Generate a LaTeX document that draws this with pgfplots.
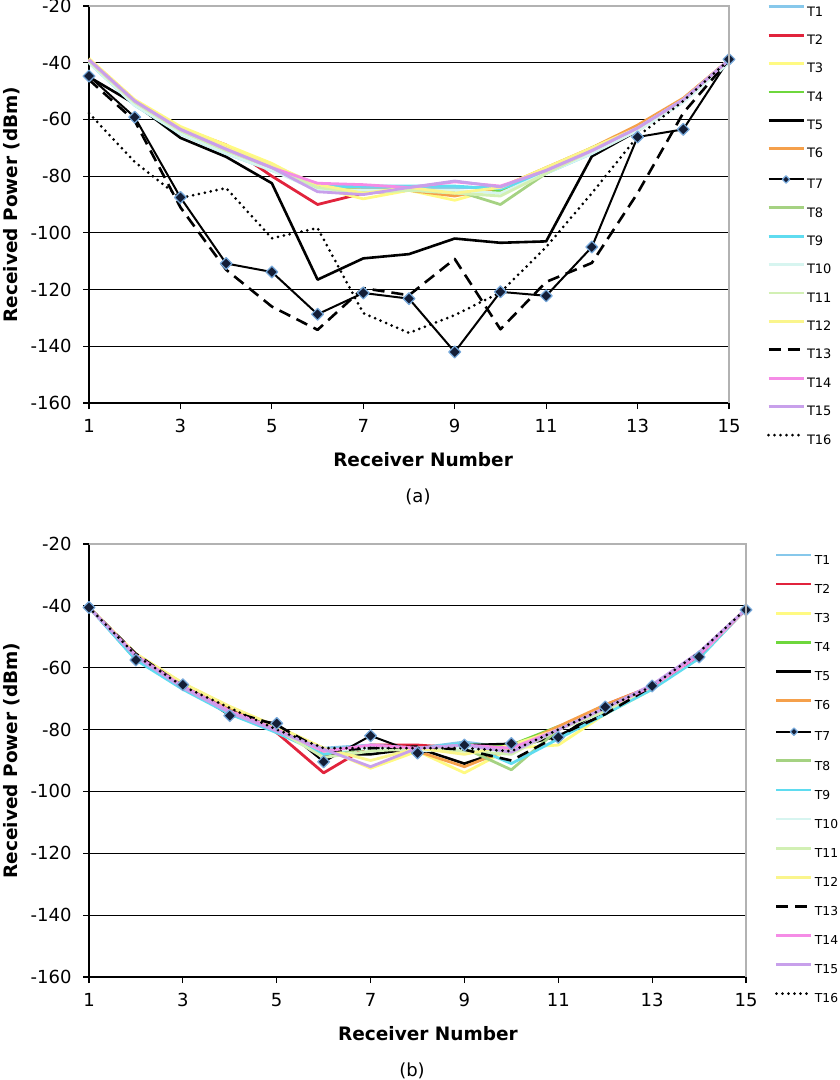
\documentclass[border=0pt]{standalone}
\usepackage{fontspec}
\setmainfont{DejaVu Sans}
\usepackage{pgfplots}
\usepackage{pgfplotstable}
\pgfplotsset{compat=1.18}
\definecolor{c1}{RGB}{135,200,235}
\definecolor{c2}{RGB}{225,35,60}
\definecolor{c3}{RGB}{255,250,130}
\definecolor{c4}{RGB}{110,215,60}
\definecolor{c6}{RGB}{245,160,75}
\definecolor{c8}{RGB}{165,210,130}
\definecolor{c9}{RGB}{95,220,240}
\definecolor{c10}{RGB}{215,245,240}
\definecolor{c11}{RGB}{210,240,180}
\definecolor{c12}{RGB}{250,245,140}
\definecolor{c14}{RGB}{245,140,230}
\definecolor{c15}{RGB}{200,160,235}
\definecolor{mkfill}{RGB}{20,30,55}
\definecolor{mkdraw}{RGB}{120,170,220}

\pgfplotstableread{
x T1 T2 T3 T4 T5 T6 T7 T8 T9 T10 T11 T12 T13 T14 T15 T16
1 -39.5 -39.5 -38.5 -39.5 -45 -39.5 -44.7 -39.5 -40 -40 -39.5 -39 -46 -39 -39 -57.8
2 -54 -53.5 -53 -54 -54.5 -54 -59.2 -54 -55 -55 -54 -53.5 -60.5 -53.5 -53.5 -75
3 -64 -63 -62.5 -64 -66.5 -64 -87.5 -64 -65 -65 -64 -63 -91 -63.5 -63.5 -87.7
4 -71 -69 -69 -71 -73.2 -71 -110.8 -71 -72 -72 -71 -70 -113 -70.5 -70.5 -84.2
5 -77 -80 -75.5 -77 -82.5 -77 -113.8 -77 -78 -78 -77 -76 -126 -77 -77 -101.9
6 -83 -90 -84 -84 -116.5 -84 -128.7 -84 -84 -85 -84 -83 -134.2 -82.5 -85.5 -98.3
7 -84 -86 -88 -85 -109 -85 -121.2 -85 -83.5 -85 -86 -86 -119.5 -83 -86.5 -128.3
8 -84 -85 -85 -85 -107.5 -85 -123.2 -85 -83.5 -85 -85 -84 -122 -84 -84 -135.3
9 -84 -86 -88.5 -86 -102 -87 -142 -85 -83.5 -85 -86 -86 -109.2 -82 -81.7 -129
10 -84 -85 -84 -85 -103.5 -84 -120.8 -90 -84.5 -86 -87 -84 -134 -83.5 -83.8 -121
11 -78 -78 -77 -78 -103 -77 -122.2 -79 -79 -79 -79 -77 -117.3 -78 -78 -105
12 -71 -71 -70 -70 -73 -70 -105 -71 -72 -72 -71 -70 -110.6 -71 -71 -86
13 -63 -63 -62.5 -63 -64 -62 -66.2 -63 -63.5 -64 -63 -63 -86 -63 -63 -66
14 -53 -53 -53 -53 -53 -52.5 -63.5 -53 -53.5 -54 -53 -53 -57.7 -53 -53 -53.5
15 -39 -39 -39 -39 -39 -39 -38.8 -39 -40 -40 -39 -39 -39 -39 -39 -39
}\dataA

\pgfplotstableread{
x T1 T2 T3 T4 T5 T6 T7 T8 T9 T10 T11 T12 T13 T14 T15 T16
1 -40.5 -40.5 -40.5 -40.5 -40.5 -40.5 -40.5 -40.5 -40.5 -40.5 -40.5 -40.5 -40.5 -40.5 -40.5 -40.5
2 -57 -56 -55.5 -56 -56 -56 -57.5 -56 -57.5 -56 -56 -55.5 -55.5 -56 -56.5 -56
3 -66 -66 -65 -66 -66 -66 -65.5 -66 -67 -66 -66 -65 -66 -66 -66.5 -66
4 -74 -73 -73 -74 -74 -73 -75.5 -74 -75 -74 -74 -72.5 -74 -74 -74.5 -73
5 -80 -81 -79 -80 -79.5 -80 -78 -80 -81 -80 -80 -79 -78.5 -80 -80.5 -80
6 -86 -94 -86 -87 -88 -87 -90.4 -88 -88 -87 -89 -86 -87 -87 -86.3 -86
7 -85 -85 -92.5 -86 -88 -86 -82 -86 -85 -86 -87 -90 -86 -85 -92 -86
8 -86 -85 -87 -86 -86 -87 -87.6 -86 -86 -87 -86 -86 -85.5 -86 -86 -86
9 -84 -86 -94 -85 -91 -92 -85 -86 -84.5 -86 -87 -88 -86.5 -85 -85 -86
10 -86 -86 -86 -85 -86 -86 -84.5 -93 -91 -87 -88 -85 -90 -86 -87.3 -87
11 -80 -80 -85 -79 -82 -79 -82.5 -80 -83 -80 -80 -80 -82 -80 -80 -80
12 -74 -72 -75 -74 -75 -72 -72.7 -74 -75 -74 -74 -73 -75 -73 -73 -73
13 -66 -66 -67 -66 -66 -66 -65.9 -66 -67 -66 -66 -66 -66 -66 -65.5 -66
14 -56 -56 -56 -56 -56 -56 -56.5 -56 -57 -56 -56 -56 -56 -56 -55 -55
15 -41 -41 -41 -41 -41 -41 -41.3 -41 -41 -41 -41 -41 -41 -41 -41 -41
}\dataB

\pgfplotsset{
  mybase/.style={
    scale only axis, clip=false,
    xmin=1, xmax=15, ymin=-160, ymax=-20,
    xtick={1,3,...,15}, ytick={-160,-140,...,-20},
    axis lines=left, axis line style={-, black, line width=1.5pt},
    ymajorgrids, grid style={black, line width=0.9pt},
    tick align=outside, major tick length=6pt,
    tick style={black, line width=1.2pt},
    /pgf/number format/assume math mode=true,
    ticklabel style={font=\fontsize{18}{21}\selectfont},
    xticklabel style={yshift=-7pt},
    yticklabel style={xshift=-8pt},
    label style={font=\bfseries\fontsize{18.5}{22}\selectfont},
    xlabel={Receiver Number}, ylabel={Received Power (dBm)},
    legend cell align=left,
    legend style={draw=none, fill=none, anchor=north west, inner sep=0pt, outer sep=0pt,
      column sep=2pt,
      nodes={inner sep=0pt, text height=9pt, text depth=0pt}},
    legend image code/.code={\draw[mark repeat=2,mark phase=2,#1,mark size=2.6pt] plot coordinates {(0pt,4.7pt) (17.5pt,4.7pt) (35pt,4.7pt)};},
    extra description/.code={\draw[gray!60, line width=1.2pt] (rel axis cs:0,1) -- (rel axis cs:1,1) -- (rel axis cs:1,0);},
  },
  col/.style={color=#1, line width=2.8pt, mark=none, line join=round},
  blk/.style={black, line width=2.2pt, mark=none, line join=round},
}

\newcommand{\allplots}[1]{%
  \addplot[col=c1] table[x=x,y=T1]{#1}; \addlegendentry{T1}
  \addplot[col=c2] table[x=x,y=T2]{#1}; \addlegendentry{T2}
  \addplot[col=c3] table[x=x,y=T3]{#1}; \addlegendentry{T3}
  \addplot[col=c4] table[x=x,y=T4]{#1}; \addlegendentry{T4}
  \addplot[blk, line width=2.6pt] table[x=x,y=T5]{#1}; \addlegendentry{T5}
  \addplot[col=c6] table[x=x,y=T6]{#1}; \addlegendentry{T6}
  \addplot[black, line width=2pt, line join=round, mark=square*, mark size=4.2pt,
    mark options={rotate=45, fill=mkfill, draw=mkdraw, line width=1.2pt, solid}] table[x=x,y=T7]{#1}; \addlegendentry{T7}
  \addplot[col=c8] table[x=x,y=T8]{#1}; \addlegendentry{T8}
  \addplot[col=c9] table[x=x,y=T9]{#1}; \addlegendentry{T9}
  \addplot[col=c10] table[x=x,y=T10]{#1}; \addlegendentry{T10}
  \addplot[col=c11] table[x=x,y=T11]{#1}; \addlegendentry{T11}
  \addplot[col=c12] table[x=x,y=T12]{#1}; \addlegendentry{T12}
  \addplot[blk, line width=2.6pt, dash pattern=on 12pt off 7pt] table[x=x,y=T13]{#1}; \addlegendentry{T13}
  \addplot[col=c14] table[x=x,y=T14]{#1}; \addlegendentry{T14}
  \addplot[col=c15] table[x=x,y=T15]{#1}; \addlegendentry{T15}
  \addplot[black, line width=3pt, line cap=round, dash pattern=on 0pt off 6pt] table[x=x,y=T16]{#1}; \addlegendentry{T16}
}

\begin{document}
\begin{tikzpicture}
\useasboundingbox (0,0) rectangle (840pt,-1080pt);
\begin{axis}[mybase,
  at={(89pt,-403pt)}, anchor=south west,
  width=640pt, height=397pt,
  xlabel style={at={(axis description cs:0.522,-0.1436)}, anchor=center},
  ylabel style={at={(axis description cs:-0.1203,0.5)}, anchor=center},
  legend style={at={(axis description cs:1.0594,1.0013)}, row sep=17.8pt, font=\fontsize{13}{15}\selectfont},
]
\allplots{\dataA}
\end{axis}
\node[font=\fontsize{18}{21}\selectfont] at (418pt,-497pt) {(a)};

\begin{axis}[mybase,
  at={(89pt,-977pt)}, anchor=south west,
  width=657pt, height=433pt,
  xlabel style={at={(axis description cs:0.516,-0.1316)}, anchor=center},
  ylabel style={at={(axis description cs:-0.1172,0.5)}, anchor=center},
  legend style={at={(axis description cs:1.0441,0.978)}, row sep=18.5pt, font=\fontsize{12.3}{14}\selectfont},
]
\allplots{\dataB}
\end{axis}
\node[font=\fontsize{18}{21}\selectfont] at (412pt,-1071pt) {(b)};
\end{tikzpicture}
\end{document}
